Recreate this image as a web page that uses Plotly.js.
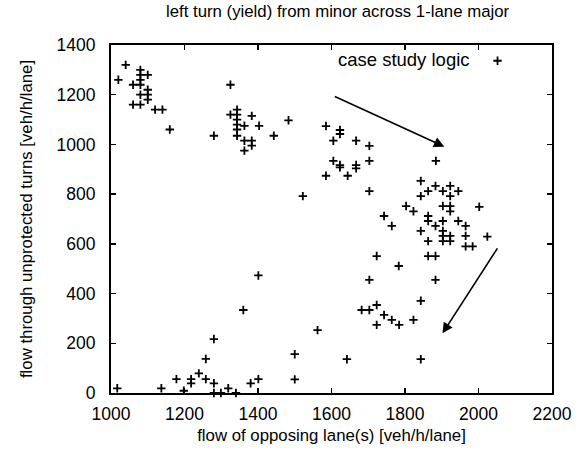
<!DOCTYPE html>
<html><head><meta charset="utf-8">
<script src="https://cdn.plot.ly/plotly-3.0.1.min.js"></script>
<style>html,body{margin:0;padding:0;background:#fff}</style>
</head><body><div id="chart" style="width:582px;height:453px"></div>
<script>
const seriesName = "case study logic";
const opposingFlow = [1040,1020,1080,1080,1080,1080,1100,1060,1100,1100,1100,1080,1060,1080,1120,1140,1160,1280,1325,1325,1343,1343,1343,1343,1343,1343,1363,1383,1403,1363,1383,1383,1363,1443,1483,1585,1623,1623,1605,1667,1703,1605,1623,1623,1667,1667,1644,1585,1703,1884,1522,1703,1843,1843,1863,1883,1903,1923,1923,1945,1803,1823,1903,1923,1923,2002,1743,1764,1863,1863,1883,1903,1945,1965,1843,1863,1903,1903,1903,1923,1923,1965,1965,1984,2024,1723,1863,1883,1783,1703,1883,1843,1682,1703,1723,1743,1764,1784,1723,1823,1562,1500,1642,1843,1500,1017,1137,1178,1198,1218,1218,1239,1258,1258,1280,1280,1280,1299,1319,1340,1360,1380,1401,1401];
const turnFlow = [1320,1260,1300,1280,1260,1240,1280,1240,1220,1200,1180,1200,1160,1160,1140,1140,1060,1035,1240,1120,1140,1120,1100,1080,1060,1035,1075,1115,1075,1015,1015,995,975,1035,1097,1074,1058,1042,1015,1015,994,934,917,908,917,904,874,874,934,934,792,812,853,792,812,833,812,833,792,812,752,731,752,752,731,749,712,672,712,692,672,692,692,672,652,611,652,632,611,632,611,632,590,590,629,551,551,551,511,455,455,371,334,334,354,314,294,274,274,294,253,156,136,136,55,19,19,56,9,56,39,79,137,56,217,39,0,0,19,0,334,39,473,56];
// trend arrows: tail -> head
const arrowTailX = [1605, 2054];
const arrowTailY = [1196, 588];
const arrowHeadX = [1907, 1902];
const arrowHeadY = [991, 240];
const xTicks = [1000,1200,1400,1600,1800,2000,2200];
const yTicks = [0,200,400,600,800,1000,1200,1400];

const font = "Liberation Sans, Arial, sans-serif";
const trace = {
  x: opposingFlow, y: turnFlow, type: 'scatter', mode: 'markers', name: '',
  cliponaxis: false, showlegend: true,
  marker: {symbol: 'cross-thin', size: 6, color: '#000', line: {color: '#000', width: 1.8}}
};
const annotations = arrowTailX.map((tx, i) => ({
  x: arrowHeadX[i], y: arrowHeadY[i], ax: tx, ay: arrowTailY[i],
  xref: 'x', yref: 'y', axref: 'x', ayref: 'y', text: '', showarrow: true,
  arrowhead: 2, arrowsize: 1.3, arrowwidth: 1.6, arrowcolor: '#000'
}));
const axisCommon = {
  showline: true, linecolor: '#000', linewidth: 2, mirror: 'ticks',
  ticks: 'inside', ticklen: 5, tickwidth: 1.5, tickcolor: '#000',
  showgrid: false, zeroline: false, automargin: false,
  tickfont: {family: font, size: 17.5, color: '#000'}
};
const layout = {
  width: 582, height: 453,
  margin: {l: 111, r: 30, t: 45, b: 60},
  paper_bgcolor: '#fff', plot_bgcolor: '#fff',
  title: {text: 'left turn (yield) from minor across 1-lane major', x: 0.58, xanchor: 'center', y: 0.988, yanchor: 'top',
          font: {family: font, size: 16.8, color: '#000'}},
  xaxis: Object.assign({}, axisCommon, {range: [1000, 2200], tickvals: xTicks, ticktext: xTicks.map(String),
    ticklabelstandoff: 4,
    title: {text: 'flow of opposing lane(s) [veh/h/lane]', font: {family: font, size: 16.8, color: '#000'}, standoff: 6}}),
  yaxis: Object.assign({}, axisCommon, {range: [0, 1400], tickvals: yTicks, ticktext: yTicks.map(String),
    ticklabelstandoff: 10,
    title: {text: 'flow through unprotected turns [veh/h/lane]', font: {family: font, size: 16.8, color: '#000'}, standoff: 20}}),
  showlegend: true,
  legend: {x: 0.51, xanchor: 'left', y: 1.008, yanchor: 'top', bgcolor: 'rgba(0,0,0,0)',
    title: {text: seriesName, side: 'left', font: {family: font, size: 18.5, color: '#000'}},
    font: {family: font, size: 18.5, color: '#000'}},
  annotations: annotations
};
Plotly.newPlot('chart', [trace], layout, {displayModeBar: false, staticPlot: true});
</script></body></html>
